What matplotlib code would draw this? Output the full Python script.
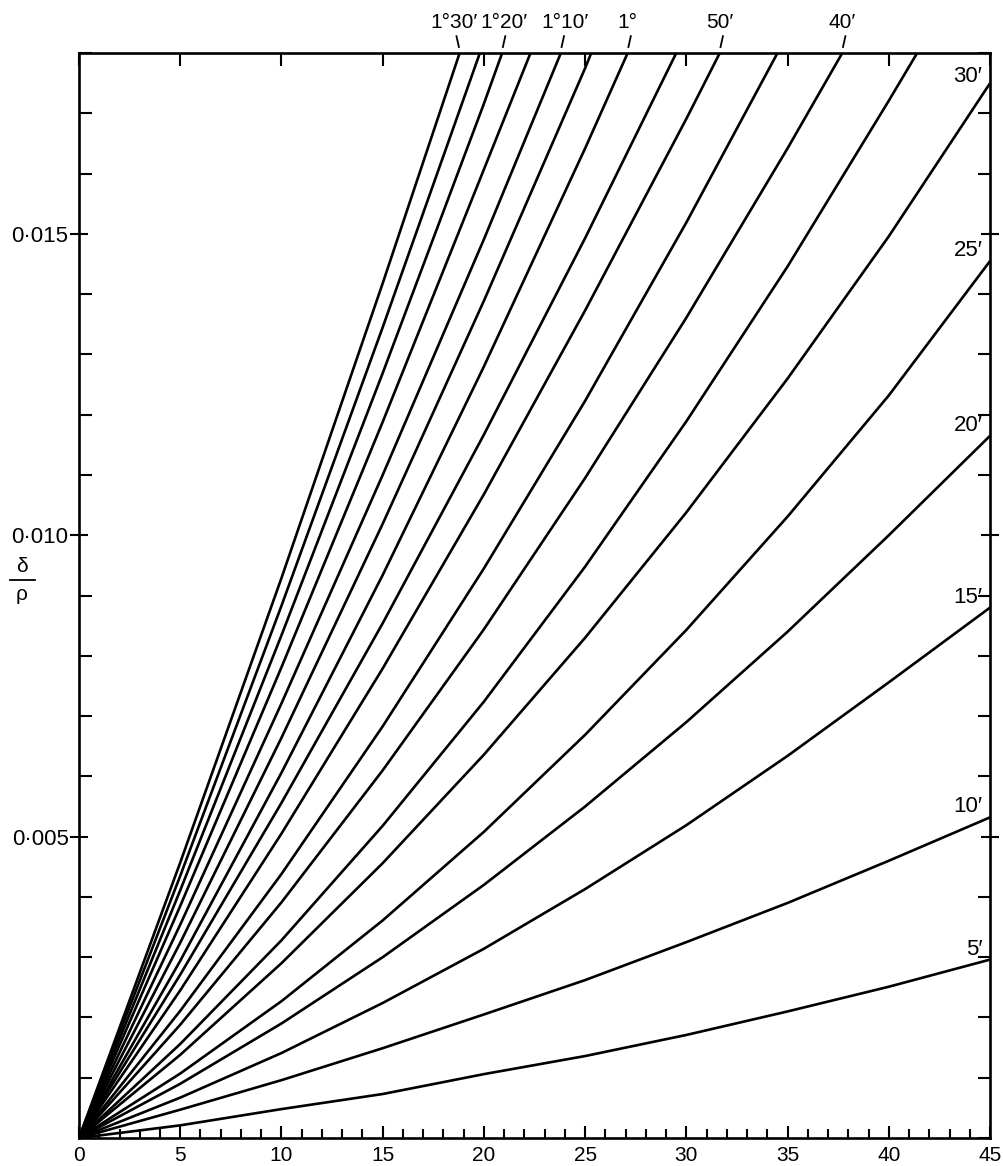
import numpy as np
import matplotlib.pyplot as plt
from matplotlib.ticker import MultipleLocator

plt.rcParams['font.family'] = ['Liberation Sans', 'DejaVu Sans']

# curves drawn every 5' from 5' to 1deg30'
angle_labels = ["5′", "10′", "15′", "20′", "25′", "30′", "35′", "40′", "45′",
                "50′", "55′", "1°", "1°05′", "1°10′", "1°15′", "1°20′", "1°25′", "1°30′"]

# delta/rho read at x = 5, 10, ..., 45 (nan once the curve has left the top)
x_grid = [5, 10, 15, 20, 25, 30, 35, 40, 45]
nan = np.nan
y_5m = [0.00021, 0.00048, 0.00073, 0.00106, 0.00136, 0.00171, 0.00210, 0.00251, 0.00296]
y_10m = [0.00047, 0.00096, 0.00149, 0.00205, 0.00262, 0.00325, 0.00390, 0.00460, 0.00532]
y_15m = [0.00067, 0.00141, 0.00224, 0.00314, 0.00413, 0.00519, 0.00634, 0.00756, 0.00880]
y_20m = [0.00090, 0.00190, 0.00300, 0.00420, 0.00550, 0.00690, 0.00840, 0.01000, 0.01165]
y_25m = [0.00107, 0.00227, 0.00361, 0.00508, 0.00669, 0.00843, 0.01031, 0.01232, 0.01455]
y_30m = [0.00138, 0.00290, 0.00456, 0.00636, 0.00830, 0.01038, 0.01260, 0.01496, 0.01750]
y_35m = [0.00156, 0.00328, 0.00518, 0.00724, 0.00948, 0.01189, 0.01446, 0.01721, nan]
y_40m = [0.00188, 0.00391, 0.00610, 0.00844, 0.01095, 0.01361, 0.01642, nan, nan]
y_45m = [0.00211, 0.00438, 0.00683, 0.00945, 0.01223, 0.01519, nan, nan, nan]
y_50m = [0.00245, 0.00505, 0.00779, 0.01068, 0.01373, 0.01691, nan, nan, nan]
y_55m = [0.00271, 0.00556, 0.00854, 0.01167, 0.01493, nan, nan, nan, nan]
y_60m = [0.00294, 0.00606, 0.00934, 0.01280, 0.01642, nan, nan, nan, nan]
y_65m = [0.00324, 0.00664, 0.01019, 0.01389, 0.01775, nan, nan, nan, nan]
y_70m = [0.00354, 0.00721, 0.01100, 0.01491, nan, nan, nan, nan, nan]
y_75m = [0.00385, 0.00781, 0.01188, 0.01607, nan, nan, nan, nan, nan]
y_80m = [0.00411, 0.00834, 0.01269, 0.01716, nan, nan, nan, nan, nan]
y_85m = [0.00435, 0.00883, 0.01345, nan, nan, nan, nan, nan, nan]
y_90m = [0.00457, 0.00929, 0.01418, nan, nan, nan, nan, nan, nan]
curves = [y_5m, y_10m, y_15m, y_20m, y_25m, y_30m, y_35m, y_40m, y_45m,
          y_50m, y_55m, y_60m, y_65m, y_70m, y_75m, y_80m, y_85m, y_90m]

# x where the steeper curves meet the top edge (delta/rho = 0.018)
x_top = [nan] * 6 + [41.4, 37.7, 34.5, 31.65, 29.5, 27.1, 25.3, 23.8, 22.3, 20.9, 19.8, 18.8]

# curves named at the top (with a small sideways nudge in points) and at the right edge
top_named = {17: ("1°30′", -4), 15: ("1°20′", 1), 13: ("1°10′", 3),
             11: ("1°", 0), 9: ("50′", 0), 7: ("40′", 0)}
right_named = [0, 1, 2, 3, 4, 5]

y_top = 0.018

fig = plt.figure(figsize=(10.04, 11.66), dpi=100)
ax = fig.add_axes([0.0787, 0.024, 0.9074, 0.9305])

for i, ys in enumerate(curves):
    px = [0.0]
    py = [0.0]
    for xv, yv in zip(x_grid, ys):
        if not np.isnan(yv):
            px.append(xv)
            py.append(yv)
    if not np.isnan(x_top[i]):
        px.append(x_top[i])
        py.append(y_top)
    ax.plot(px, py, color='black', lw=1.9, solid_capstyle='butt')

    if i in right_named:
        dy = 4.5 if i == 5 else 7.5
        ax.annotate(angle_labels[i], (45, ys[-1]), xytext=(-5.5, dy), textcoords='offset points',
                    ha='right', va='center', fontsize=16)
    if i in top_named:
        xt = x_top[i]
        text, nudge = top_named[i]
        lean = -0.12 if i == 17 else 0.12
        ax.plot([xt + lean * 0.3, xt + lean * 1.3], [0.0181, 0.01828],
                color='black', lw=1.3, clip_on=False)
        ax.annotate(text, (xt, y_top), xytext=(nudge, 15),
                    textcoords='offset points', ha='center', va='bottom', fontsize=15)

ax.set_xlim(0, 45)
ax.set_ylim(0, y_top)

for s in ax.spines.values():
    s.set_linewidth(1.9)

ax.set_xticks(range(0, 46, 5))
ax.xaxis.set_minor_locator(MultipleLocator(1))
ax.set_yticks([0.005, 0.010, 0.015])
ax.set_yticklabels(["0·005", "0·010", "0·015"])
ax.yaxis.set_minor_locator(MultipleLocator(0.001))
ax.tick_params(axis='x', which='major', direction='in', length=9, width=1.5,
               top=True, labelsize=15, pad=6)
ax.tick_params(axis='x', which='minor', direction='in', length=6.5, width=1.5, top=False)
ax.tick_params(axis='y', which='major', direction='inout', length=13, width=1.5,
               right=True, labelsize=16, pad=1)
ax.tick_params(axis='y', which='minor', direction='in', length=9, width=1.5, right=True)

# delta / rho axis label drawn as a small fraction
fig.text(22 / 1004, 1 - 567 / 1166, "δ", ha='center', va='center', fontsize=15)
fig.text(22 / 1004, 1 - 594 / 1166, "ρ", ha='center', va='center', fontsize=15)
fig.add_artist(plt.Line2D([10 / 1004, 35 / 1004], [1 - 580 / 1166, 1 - 580 / 1166],
                          color='black', lw=1.3))

fig.savefig('out.png', dpi=100)
